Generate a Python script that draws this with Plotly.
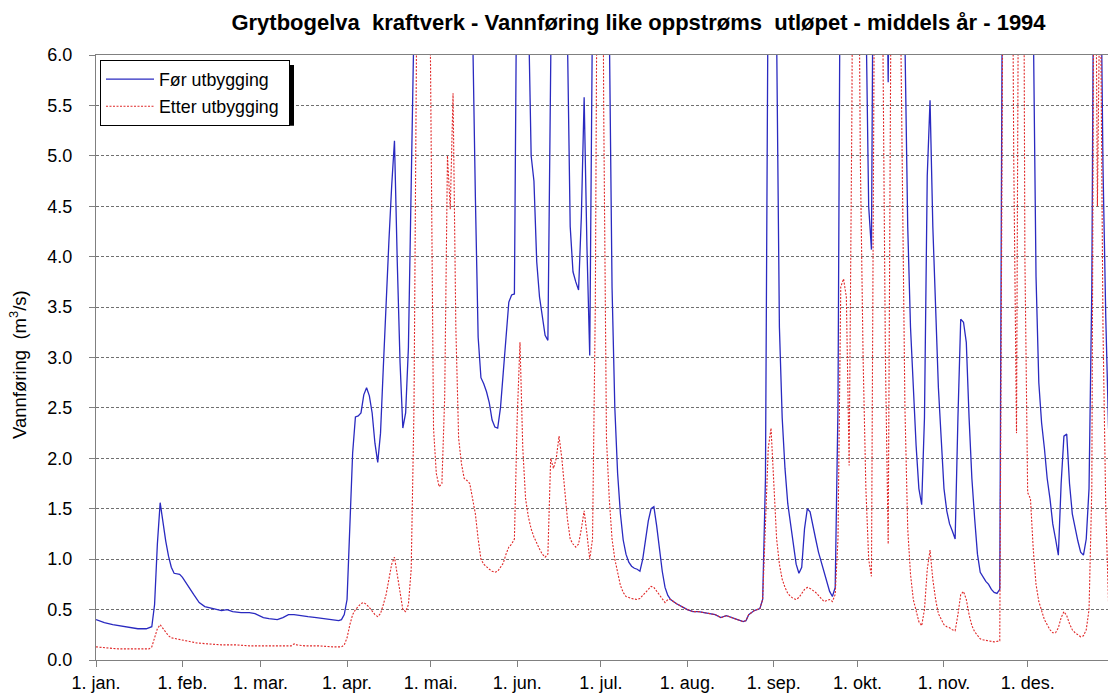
import datetime as dt
import plotly.graph_objects as go

# ---- data (day offset from 1 Jan 1994, flow m3/s) ----
before_days = [0, 3, 6, 10, 13, 15, 18, 20, 21, 22, 23, 24, 25, 26, 27, 28, 30, 31, 33, 35, 37, 39, 42, 45, 47, 49, 52, 55, 57, 60,
               62, 65, 67, 69, 71, 73, 76, 79, 82, 85, 87, 88, 89, 90, 91, 92, 93, 94, 95, 96, 97, 98, 99, 100, 101, 102, 103, 104, 105, 106,
               107, 108, 109, 110, 111, 112, 113, 114, 115, 116, 118, 120, 122, 124, 126, 128, 130, 132, 134, 135, 136, 137, 138, 139, 140, 141, 142, 143, 144, 145,
               146, 147, 148, 149, 150, 151, 152, 153, 154, 155, 156, 157, 158, 159, 160, 161, 162, 163, 164, 166, 168, 169, 170, 171, 172, 173, 174, 175, 176, 177,
               178, 179, 181, 183, 184, 185, 186, 187, 188, 189, 190, 191, 192, 193, 194, 195, 196, 197, 198, 199, 200, 201, 202, 203, 204, 205, 206, 207, 208, 210,
               212, 214, 216, 218, 220, 222, 224, 226, 228, 230, 232, 233, 234, 236, 238, 239, 240, 241, 242, 243, 244, 245, 246, 247, 248, 249, 250, 251, 252, 253,
               254, 255, 256, 257, 258, 259, 260, 261, 262, 263, 264, 265, 266, 267, 268, 270, 272, 274, 275, 276, 277, 278, 279, 280, 282, 283, 284, 285, 286, 288,
               289, 290, 291, 292, 293, 294, 295, 296, 297, 298, 299, 300, 301, 302, 303, 304, 305, 306, 307, 308, 309, 310, 311, 312, 313, 314, 315, 316, 317, 318,
               319, 320, 321, 322, 323, 324, 325, 326, 328, 330, 332, 334, 335, 336, 337, 338, 339, 340, 341, 342, 343, 344, 345, 346, 347, 348, 349, 350, 351, 352,
               353, 354, 355, 356, 357, 358, 359, 360, 361, 362, 363, 364]
before_vals = [0.40, 0.37, 0.35, 0.33, 0.32, 0.31, 0.31, 0.33, 0.55, 1.15, 1.56, 1.35, 1.18, 1.03, 0.92, 0.86, 0.85, 0.82, 0.73, 0.65, 0.57, 0.53, 0.51, 0.49, 0.50, 0.48, 0.47, 0.47, 0.46, 0.42,
               0.41, 0.40, 0.42, 0.45, 0.45, 0.44, 0.43, 0.42, 0.41, 0.40, 0.39, 0.40, 0.45, 0.60, 1.30, 2.05, 2.41, 2.42, 2.45, 2.63, 2.70, 2.62, 2.45, 2.15, 1.96, 2.25, 2.90, 3.60, 4.15, 4.70,
               5.15, 3.95, 2.95, 2.30, 2.45, 3.10, 4.40, 5.70, 8.5, 12, 15, 16, 14, 16, 18, 15, 13, 10, 7.5, 6.3, 4.6, 3.2, 2.80, 2.74, 2.66, 2.55, 2.38, 2.31, 2.30, 2.50,
               2.85, 3.25, 3.55, 3.62, 3.63, 7.5, 14, 12, 8, 6.3, 5.00, 4.75, 3.95, 3.60, 3.40, 3.22, 3.17, 8, 12, 14, 9, 6.2, 4.3, 3.85, 3.75, 3.67, 4.40, 5.58, 4.10, 3.02,
               6.5, 11, 14, 9, 6.3, 3.70, 2.50, 1.85, 1.45, 1.19, 1.05, 0.97, 0.93, 0.91, 0.90, 0.88, 1.00, 1.20, 1.38, 1.50, 1.52, 1.33, 1.10, 0.88, 0.72, 0.64, 0.60, 0.58, 0.56, 0.53,
               0.50, 0.48, 0.48, 0.47, 0.46, 0.45, 0.42, 0.44, 0.42, 0.40, 0.38, 0.39, 0.45, 0.49, 0.51, 0.60, 1.8, 7, 12, 9, 6.2, 3.3, 2.4, 1.9, 1.55, 1.35, 1.20, 0.95, 0.86, 0.92,
               1.30, 1.50, 1.47, 1.35, 1.20, 1.07, 0.97, 0.87, 0.77, 0.68, 0.63, 0.72, 2.5, 9, 14, 18, 15, 12, 9, 6.5, 4.5, 4.07, 9, 14, 12, 8, 5.73, 9, 14, 12,
               8, 6.2, 4.3, 3.3, 2.7, 2.13, 1.70, 1.54, 2.40, 4.80, 5.55, 4.30, 3.50, 2.70, 2.20, 1.70, 1.48, 1.35, 1.28, 1.20, 2.40, 3.38, 3.35, 3.15, 2.40, 1.80, 1.40, 1.05, 0.87, 0.82,
               0.78, 0.75, 0.70, 0.67, 0.66, 0.70, 7, 14, 18, 16, 14, 12, 9, 6.5, 3.8, 2.75, 2.35, 2.10, 1.80, 1.60, 1.35, 1.20, 1.04, 1.75, 2.22, 2.24, 1.75, 1.45, 1.30, 1.18,
               1.07, 1.04, 1.20, 1.70, 3.70, 10, 14, 7.5, 4.9, 3.4, 2.3, 1.9]

after_days = [0, 4, 8, 12, 16, 19, 20, 21, 22, 23, 24, 25, 26, 27, 29, 31, 33, 36, 40, 45, 50, 55, 60, 65, 70, 71, 72, 75, 80, 85,
              88, 89, 90, 91, 92, 93, 94, 95, 96, 97, 98, 99, 100, 101, 102, 103, 104, 105, 106, 107, 108, 109, 110, 111, 112, 113, 114, 115, 116, 118,
              119, 120, 121, 122, 123, 124, 125, 126, 127, 128, 129, 130, 131, 132, 133, 134, 135, 136, 137, 138, 139, 140, 141, 142, 143, 144, 145, 146, 147, 148,
              149, 150, 151, 152, 153, 154, 155, 156, 157, 158, 159, 160, 161, 162, 163, 164, 165, 166, 167, 168, 169, 170, 171, 172, 173, 174, 175, 176, 177, 178,
              179, 180, 181, 182, 183, 184, 185, 186, 187, 188, 189, 190, 192, 194, 195, 196, 197, 198, 199, 200, 201, 202, 203, 204, 205, 206, 207, 208, 210, 212,
              214, 216, 218, 220, 222, 224, 226, 228, 230, 232, 233, 234, 236, 238, 239, 240, 241, 242, 243, 244, 245, 246, 247, 248, 249, 250, 251, 252, 253, 254,
              255, 256, 257, 258, 259, 260, 261, 262, 263, 264, 265, 266, 267, 268, 269, 270, 271, 272, 273, 274, 275, 276, 277, 278, 279, 280, 281, 282, 283, 284,
              285, 286, 287, 288, 289, 290, 291, 292, 293, 294, 295, 296, 297, 298, 299, 300, 301, 302, 303, 304, 305, 306, 307, 308, 309, 310, 311, 312, 313, 314,
              315, 316, 317, 318, 320, 322, 324, 325, 326, 328, 329, 330, 331, 332, 333, 334, 335, 336, 337, 338, 339, 340, 341, 342, 343, 344, 345, 346, 347, 348,
              349, 350, 351, 352, 353, 354, 355, 356, 357, 358, 359, 360, 361, 362, 363, 364]
after_vals = [0.13, 0.12, 0.11, 0.11, 0.11, 0.11, 0.13, 0.22, 0.31, 0.35, 0.31, 0.27, 0.24, 0.22, 0.21, 0.20, 0.19, 0.17, 0.16, 0.15, 0.15, 0.14, 0.14, 0.14, 0.14, 0.16, 0.15, 0.14, 0.14, 0.13,
              0.13, 0.15, 0.22, 0.35, 0.45, 0.50, 0.53, 0.56, 0.57, 0.55, 0.52, 0.48, 0.45, 0.43, 0.46, 0.55, 0.65, 0.80, 0.95, 1.02, 0.85, 0.65, 0.50, 0.48, 0.55, 0.90, 2.5, 6.5, 10, 12,
              9, 5.5, 2.3, 1.85, 1.72, 1.75, 2.6, 5.00, 4.47, 5.62, 3.30, 2.20, 1.95, 1.80, 1.78, 1.75, 1.60, 1.45, 1.20, 1.00, 0.95, 0.92, 0.90, 0.88, 0.87, 0.88, 0.92, 0.96, 1.05, 1.12,
              1.15, 1.20, 2.40, 3.15, 2.10, 1.60, 1.42, 1.30, 1.22, 1.15, 1.10, 1.05, 1.02, 1.05, 2.00, 1.90, 2.00, 2.22, 2.00, 1.70, 1.40, 1.20, 1.15, 1.12, 1.15, 1.30, 1.48, 1.25, 1.00, 1.20,
              3.5, 9, 12, 5.5, 2.2, 1.6, 1.2, 1.0, 0.85, 0.74, 0.67, 0.63, 0.61, 0.60, 0.61, 0.64, 0.68, 0.71, 0.73, 0.72, 0.68, 0.64, 0.60, 0.57, 0.60, 0.60, 0.58, 0.56, 0.53, 0.50,
              0.48, 0.48, 0.47, 0.46, 0.45, 0.42, 0.44, 0.42, 0.40, 0.38, 0.39, 0.45, 0.49, 0.51, 0.60, 1.40, 2.10, 2.30, 1.80, 1.20, 0.95, 0.80, 0.72, 0.66, 0.63, 0.61, 0.60, 0.62, 0.66, 0.70,
              0.72, 0.71, 0.69, 0.67, 0.64, 0.61, 0.58, 0.59, 0.60, 0.58, 0.65, 1.20, 3.70, 3.78, 3.60, 1.93, 5.5, 12, 9, 5, 3, 1.7, 1.0, 0.83, 6, 12, 10, 6.5, 3, 1.15,
              7, 12, 10, 7.5, 4.8, 2.5, 1.3, 0.85, 0.60, 0.48, 0.38, 0.34, 0.50, 0.90, 1.09, 0.80, 0.60, 0.46, 0.40, 0.35, 0.33, 0.32, 0.30, 0.29, 0.45, 0.65, 0.68, 0.60, 0.45, 0.34,
              0.28, 0.24, 0.21, 0.20, 0.19, 0.18, 0.19, 6.5, 12, 10, 5, 2.25, 9, 12, 4.0, 1.66, 1.60, 1.10, 0.75, 0.58, 0.48, 0.40, 0.35, 0.30, 0.27, 0.27, 0.32, 0.42, 0.48, 0.44,
              0.36, 0.30, 0.27, 0.25, 0.23, 0.24, 0.30, 0.50, 1.70, 9, 4.50, 7, 3.3, 1.5, 0.56, 0.45]

month_labels = ["1. jan.", "1. feb.", "1. mar.", "1. apr.", "1. mai.", "1. jun.",
                "1. jul.", "1. aug.", "1. sep.", "1. okt.", "1. nov.", "1. des."]
y_ticks = [0.0, 0.5, 1.0, 1.5, 2.0, 2.5, 3.0, 3.5, 4.0, 4.5, 5.0, 5.5, 6.0]

title_text = "Grytbogelva  kraftverk - Vannføring like oppstrøms  utløpet - middels år - 1994"
y_title = "Vannføring  (m<sup>3</sup>/s)"
name_before = "Før utbygging"
name_after = "Etter utbygging"

# ---- build ----
start = dt.datetime(1994, 1, 1)
x_before = [start + dt.timedelta(days=d) for d in before_days]
x_after = [start + dt.timedelta(days=d) for d in after_days]
month_ticks = [dt.datetime(1994, m, 1) for m in range(1, 13)]

W, H = 1110, 695
ML, MR, MT, MB = 96, 2, 55, 33
PW = W - ML - MR
PH = H - MT - MB
FONT = "Liberation Sans, Arial, sans-serif"

fig = go.Figure()
fig.add_trace(go.Scatter(x=x_before, y=before_vals, mode="lines", name=name_before,
                         legendgroup="a",
                         line=dict(color="#2a2ac0", width=1.3)))
fig.add_trace(go.Scatter(x=x_after, y=after_vals, mode="lines", name=name_after + "\u00a0",
                         legendgroup="b",
                         line=dict(color="#e02828", width=1.1, dash="2px,1.5px")))


def px_to_paper(px, py):
    return (px - ML) / PW, (H - MB - py) / PH


# legend shadow
sx0, sy0 = px_to_paper(104, 65)
sx1, sy1 = px_to_paper(294, 126)
fig.add_shape(type="rect", xref="paper", yref="paper", x0=sx0, x1=sx1, y0=sy1, y1=sy0,
              fillcolor="black", line=dict(width=0), layer="above")

# y-axis title as rotated annotation
tx, ty = px_to_paper(18, 366)
fig.add_annotation(text=y_title, xref="paper", yref="paper", x=tx, y=ty,
                   xanchor="center", yanchor="middle", textangle=-90, showarrow=False,
                   font=dict(family=FONT, size=18.5, color="black"))

lx, ly = px_to_paper(100, 60)
end = start + dt.timedelta(days=362.8)

fig.update_layout(
    width=W, height=H,
    margin=dict(l=ML, r=MR, t=MT, b=MB),
    paper_bgcolor="white", plot_bgcolor="white",
    font=dict(family=FONT, size=17, color="black"),
    title=dict(text="<b>" + title_text + "</b>", xref="container", x=638.5 / W, xanchor="center",
               y=1 - 22 / H, yanchor="middle", font=dict(family=FONT, size=22, color="black")),
    showlegend=True,
    legend=dict(x=lx, y=ly, xanchor="left", yanchor="top", bgcolor="white",
                bordercolor="black", borderwidth=1, font=dict(family=FONT, size=17.8),
                tracegroupgap=1, traceorder="grouped", itemwidth=48),
    xaxis=dict(range=[start, end], tickvals=month_ticks, ticktext=month_labels,
               showgrid=False, zeroline=False, showline=True, linecolor="#808080", linewidth=1,
               mirror=True, ticks="outside", ticklen=6, tickcolor="#808080",
               tickfont=dict(family=FONT, size=18)),
    yaxis=dict(range=[0, 6], tickvals=y_ticks, tickformat=".1f",
               showgrid=True, gridcolor="#707070", gridwidth=1, griddash="3px,2px",
               zeroline=False, showline=True, linecolor="#808080", linewidth=1,
               ticks="outside", ticklen=6, tickcolor="#808080",
               tickfont=dict(family=FONT, size=18), ticklabelstandoff=13),
)

fig.write_html("out.html", config={"displayModeBar": False},
               post_script="document.body.style.margin='0';")
